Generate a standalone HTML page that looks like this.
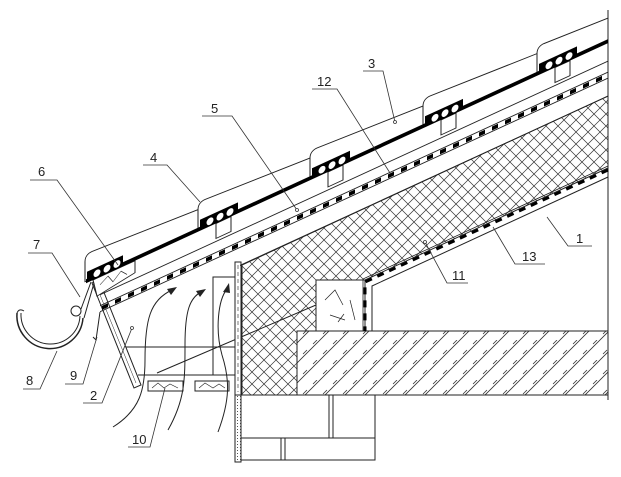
<!DOCTYPE html>
<html><head><meta charset="utf-8"><style>
html,body{margin:0;padding:0;background:#fff;}
svg{display:block;}
text{font-family:"Liberation Sans",sans-serif;font-size:13px;fill:#222;}
</style></head><body>
<svg width="621" height="477" viewBox="0 0 621 477" xmlns="http://www.w3.org/2000/svg">
<defs>
<pattern id="xh" patternUnits="userSpaceOnUse" width="12" height="12">
<path d="M0,0L12,12M12,0L0,12" stroke="#333" stroke-width="0.7"/>
</pattern>
<pattern id="bh" patternUnits="userSpaceOnUse" width="20" height="20">
<path d="M0,20L20,0M-5,5L5,-5M15,25L25,15" stroke="#333" stroke-width="0.8"/>
<path d="M3,14L7,10M13,4L17,0" stroke="#333" stroke-width="0.8"/>
</pattern>
<pattern id="dots" patternUnits="userSpaceOnUse" width="3" height="3">
<rect x="0" y="0" width="1" height="1" fill="#555"/>
</pattern>
</defs>
<g fill="none" stroke="#222" stroke-width="1">
<line x1="608" y1="10" x2="608" y2="400"/>
<polygon points="242,265 608,96 608,168 365,280 365,331 297,331 297,395 242,395" fill="url(#xh)"/>
<rect x="316" y="280" width="49" height="51" fill="#fff"/>
<path d="M325,300l10,-10l8,15M330,315l15,5M350,300l5,20M338,322l6,-8" stroke-width="0.7"/>
<rect x="297" y="331" width="311" height="64" fill="url(#bh)"/>
<line x1="157" y1="373" x2="316" y2="305"/>
<path d="M608,170 L365,282 L365,331" stroke="#000" stroke-width="3" stroke-dasharray="7 6"/>
<path d="M608,166 L363,279 L363,331" stroke-width="0.8"/>
<path d="M608,177 L372,286 L372,331"/>
<rect x="235" y="262" width="6" height="200" fill="#fff"/>
<rect x="235" y="395" width="6" height="67" fill="url(#dots)"/>
<line x1="238" y1="265" x2="238" y2="392" stroke-dasharray="4 3" stroke-width="0.6"/>
<path d="M241,395H375V460H241M241,438H375M329,395V438M333,395V438M281,438V460M285,438V460"/>
<path d="M124,347H235M138,375H235M213,375V277H235"/>
<rect x="148" y="381" width="35" height="10" fill="#fff"/>
<rect x="195" y="381" width="34" height="10" fill="#fff"/>
<path d="M152,388l6,-5l6,5l6,-4l8,4M199,388l6,-5l8,5l6,-4l6,4" stroke-width="0.6"/>
<polygon points="92,283 99,280 141,385 134,388" fill="#fff"/>
<line x1="96" y1="285" x2="136" y2="383" stroke-width="0.5"/>
<g transform="matrix(1,-0.46,0,1,0,320.8)">
<line x1="100" y1="20" x2="608" y2="20"/>
<line x1="100" y1="31" x2="608" y2="31"/>
<line x1="100" y1="37" x2="608" y2="37"/>
<line x1="102" y1="34" x2="608" y2="34" stroke="#000" stroke-width="4" stroke-dasharray="6 7"/>
<line x1="240" y1="55" x2="608" y2="55"/>
<polygon points="93,2 135,2 135,14 97,20" fill="#fff"/>
<path d="M100,10l8,-5l5,8l8,-7l6,6" stroke-width="0.6"/>
<g fill="#fff">
<rect x="216" y="2" width="15" height="15"/><rect x="328" y="2" width="15" height="15"/>
<rect x="441" y="2" width="15" height="15"/><rect x="555" y="2" width="15" height="15"/>
</g>
<g fill="#fff">
<path d="M85,0V-20Q85,-27 92,-27L200,-20V0Z"/>
<path d="M198,0V-20Q198,-27 205,-27L313,-20V0Z"/>
<path d="M310,0V-20Q310,-27 317,-27L426,-20V0Z"/>
<path d="M423,0V-20Q423,-27 430,-27L540,-20V0Z"/>
<path d="M537,0V-20Q537,-27 544,-27L608,-23V0Z"/>
</g>
<line x1="86" y1="0" x2="608" y2="0" stroke="#000" stroke-width="4"/>
<g fill="#000" stroke="none">
<rect x="87" y="-9" width="36" height="9"/><rect x="200" y="-9" width="38" height="9"/>
<rect x="312" y="-9" width="38" height="9"/><rect x="425" y="-9" width="38" height="9"/>
<rect x="539" y="-9" width="38" height="9"/>
</g>
<g fill="#fff" stroke="none">
<circle cx="97" cy="-3" r="3.5"/><circle cx="107" cy="-3" r="3.5"/><circle cx="117" cy="-3" r="3.5"/>
<circle cx="210" cy="-3" r="3.5"/><circle cx="220" cy="-3" r="3.5"/><circle cx="230" cy="-3" r="3.5"/>
<circle cx="322" cy="-3" r="3.5"/><circle cx="332" cy="-3" r="3.5"/><circle cx="342" cy="-3" r="3.5"/>
<circle cx="435" cy="-3" r="3.5"/><circle cx="445" cy="-3" r="3.5"/><circle cx="455" cy="-3" r="3.5"/>
<circle cx="549" cy="-3" r="3.5"/><circle cx="559" cy="-3" r="3.5"/><circle cx="569" cy="-3" r="3.5"/>
</g>
</g>
<path d="M100,312 L96,340 l-3,-3"/>
<path d="M17,313 A33,33 0 0 0 83,318" stroke-width="1.5"/>
<path d="M21,313 A29,29 0 0 0 80,316" stroke-width="1"/>
<path d="M17,313 q2,-5 7,-2"/>
<circle cx="76" cy="311" r="5"/>
<path d="M81,309 L91,282 M84,318 L94,283"/>
<path d="M113,427 C140,410 145,390 145,360 C145,320 150,300 172,290"/>
<path d="M168,430 C185,400 185,380 185,345 C185,310 190,298 201,292"/>
<path d="M218,432 C230,400 230,380 222,355 C215,330 218,300 227,289"/>
</g>
<g fill="#222">
<polygon points="177,287 167,289 171,295"/>
<polygon points="206,289 196,291 200,297"/>
<polygon points="229,283 223,292 230,293"/>
</g>
<g fill="none" stroke="#333" stroke-width="0.8">
<path d="M30,180H57L118,265"/>
<path d="M28,253H52L80,297"/>
<path d="M23,389H40L57,351"/>
<path d="M65,384H83L97,337"/>
<path d="M83,403H102L132,328"/>
<path d="M128,447H150L165,388"/>
<path d="M143,165H167L200,202"/>
<path d="M202,116H232L297,210"/>
<path d="M312,89H337L390,173"/>
<path d="M363,71H383L395,122"/>
<path d="M592,246H568L547,217"/>
<path d="M545,264H515L493,227"/>
<path d="M468,283H447L425,242"/>
</g>
<g fill="#fff" stroke="#333" stroke-width="0.8">
<circle cx="132" cy="328" r="1.5"/><circle cx="297" cy="210" r="1.5"/>
<circle cx="395" cy="122" r="1.5"/><circle cx="425" cy="242" r="1.5"/>
</g>
<text x="38" y="176">6</text>
<text x="33" y="249">7</text>
<text x="26" y="385">8</text>
<text x="70" y="380">9</text>
<text x="90" y="400">2</text>
<text x="132" y="444">10</text>
<text x="150" y="162">4</text>
<text x="211" y="113">5</text>
<text x="317" y="86">12</text>
<text x="368" y="68">3</text>
<text x="576" y="243">1</text>
<text x="522" y="261">13</text>
<text x="452" y="280">11</text>
</svg>
</body></html>
